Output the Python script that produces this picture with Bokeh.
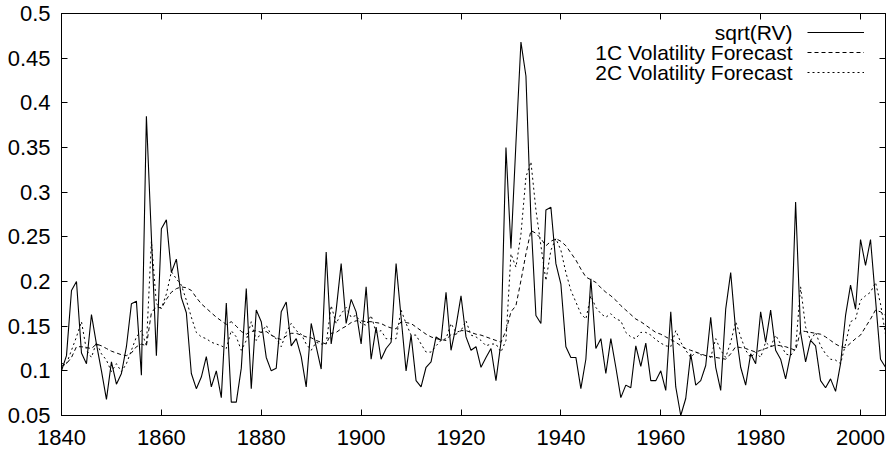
from bokeh.plotting import figure
from bokeh.models import FixedTicker, LinearAxis, Label, Legend, LegendItem, Range1d, CustomJSTickFormatter
from bokeh.core.properties import value
from bokeh.embed import file_html
from bokeh.resources import INLINE

years = list(range(1840, 2006))

sqrt_rv = [
    0.100, 0.117, 0.190, 0.200, 0.120, 0.108, 0.163, 0.130, 0.100, 0.068,  # 1840-1849
    0.110, 0.085, 0.097, 0.127, 0.175, 0.178, 0.095, 0.385, 0.250, 0.117,  # 1850-1859
    0.259, 0.269, 0.210, 0.225, 0.182, 0.165, 0.097, 0.080, 0.093, 0.116,  # 1860-1869
    0.082, 0.100, 0.070, 0.176, 0.065, 0.065, 0.103, 0.192, 0.080, 0.168,  # 1870-1879
    0.155, 0.115, 0.100, 0.103, 0.166, 0.177, 0.128, 0.136, 0.116, 0.082,  # 1880-1889
    0.153, 0.127, 0.102, 0.233, 0.130, 0.168, 0.220, 0.153, 0.180, 0.166,  # 1890-1899
    0.130, 0.194, 0.113, 0.149, 0.113, 0.125, 0.132, 0.220, 0.160, 0.100,  # 1900-1909
    0.140, 0.089, 0.082, 0.104, 0.110, 0.138, 0.134, 0.188, 0.123, 0.150,  # 1910-1919
    0.184, 0.138, 0.123, 0.127, 0.104, 0.115, 0.125, 0.089, 0.132, 0.350,  # 1920-1929
    0.237, 0.355, 0.468, 0.430, 0.270, 0.162, 0.153, 0.280, 0.283, 0.220,  # 1930-1939
    0.197, 0.127, 0.115, 0.115, 0.080, 0.113, 0.203, 0.125, 0.136, 0.097,  # 1940-1949
    0.136, 0.104, 0.070, 0.084, 0.081, 0.128, 0.105, 0.131, 0.089, 0.089,  # 1950-1959
    0.100, 0.078, 0.166, 0.082, 0.050, 0.069, 0.119, 0.084, 0.089, 0.106,  # 1960-1969
    0.160, 0.104, 0.078, 0.169, 0.210, 0.145, 0.104, 0.084, 0.119, 0.108,  # 1970-1979
    0.166, 0.132, 0.168, 0.123, 0.113, 0.091, 0.119, 0.289, 0.143, 0.110,  # 1980-1989
    0.134, 0.128, 0.089, 0.081, 0.091, 0.077, 0.108, 0.162, 0.196, 0.169,  # 1990-1999
    0.247, 0.218, 0.247, 0.180, 0.113, 0.104,                              # 2000-2005
]

forecast_1c = [
    0.105, 0.108, 0.115, 0.127, 0.127, 0.126, 0.125, 0.130, 0.128, 0.125,
    0.122, 0.120, 0.118, 0.117, 0.120, 0.127, 0.130, 0.128, 0.165, 0.172,
    0.170, 0.180, 0.188, 0.192, 0.194, 0.193, 0.190, 0.182, 0.175, 0.170,
    0.165, 0.160, 0.156, 0.152, 0.155, 0.150, 0.144, 0.141, 0.144, 0.145,
    0.143, 0.144, 0.140, 0.137, 0.135, 0.139, 0.142, 0.142, 0.140, 0.138,
    0.137, 0.134, 0.132, 0.130, 0.142, 0.143, 0.147, 0.150, 0.154, 0.156,
    0.156, 0.155, 0.155, 0.154, 0.153, 0.150, 0.148, 0.147, 0.155, 0.154,
    0.153, 0.149, 0.145, 0.141, 0.138, 0.136, 0.135, 0.134, 0.141, 0.141,
    0.145, 0.145, 0.143, 0.141, 0.140, 0.138, 0.136, 0.134, 0.132, 0.145,
    0.166, 0.173, 0.201, 0.231, 0.257, 0.254, 0.248, 0.240, 0.245, 0.248,
    0.245, 0.240, 0.232, 0.224, 0.214, 0.205, 0.202, 0.199, 0.193, 0.188,
    0.184, 0.179, 0.173, 0.168, 0.163, 0.158, 0.155, 0.151, 0.147, 0.143,
    0.141, 0.138, 0.135, 0.132, 0.128, 0.125, 0.123, 0.121, 0.119, 0.117,
    0.116, 0.115, 0.114, 0.113, 0.119, 0.127, 0.126, 0.125, 0.123, 0.121,
    0.123, 0.125, 0.127, 0.129, 0.128, 0.127, 0.125, 0.123, 0.145, 0.144,
    0.143, 0.142, 0.141, 0.138, 0.134, 0.130, 0.127, 0.126, 0.131, 0.136,
    0.140, 0.149, 0.158, 0.168, 0.166, 0.162,
]

forecast_2c = [
    0.108, 0.108, 0.123, 0.138, 0.155, 0.123, 0.115, 0.132, 0.119, 0.112,
    0.099, 0.108, 0.099, 0.108, 0.123, 0.138, 0.145, 0.128, 0.245, 0.175,
    0.170, 0.186, 0.211, 0.203, 0.196, 0.179, 0.160, 0.143, 0.138, 0.136,
    0.132, 0.130, 0.128, 0.125, 0.145, 0.138, 0.123, 0.134, 0.155, 0.134,
    0.143, 0.151, 0.140, 0.136, 0.127, 0.143, 0.153, 0.145, 0.141, 0.130,
    0.123, 0.132, 0.130, 0.130, 0.173, 0.153, 0.164, 0.171, 0.160, 0.162,
    0.153, 0.151, 0.162, 0.143, 0.145, 0.136, 0.136, 0.136, 0.168, 0.153,
    0.140, 0.140, 0.130, 0.121, 0.121, 0.128, 0.134, 0.136, 0.153, 0.143,
    0.145, 0.156, 0.140, 0.138, 0.134, 0.128, 0.130, 0.130, 0.121, 0.134,
    0.231, 0.216, 0.253, 0.317, 0.334, 0.280, 0.240, 0.201, 0.235, 0.248,
    0.235, 0.210, 0.190, 0.177, 0.164, 0.158, 0.184, 0.171, 0.164, 0.160,
    0.164, 0.158, 0.156, 0.143, 0.138, 0.136, 0.143, 0.143, 0.140, 0.135,
    0.131, 0.128, 0.127, 0.145, 0.132, 0.123, 0.115, 0.121, 0.118, 0.117,
    0.115, 0.136, 0.123, 0.115, 0.132, 0.155, 0.138, 0.123, 0.115, 0.121,
    0.115, 0.132, 0.127, 0.140, 0.130, 0.119, 0.117, 0.125, 0.194, 0.149,
    0.134, 0.143, 0.128, 0.119, 0.113, 0.112, 0.108, 0.130, 0.155, 0.158,
    0.179, 0.184, 0.188, 0.199, 0.175, 0.141,
]

x_ticks = [1840, 1860, 1880, 1900, 1920, 1940, 1960, 1980, 2000]
y_ticks = [0.05, 0.1, 0.15, 0.2, 0.25, 0.3, 0.35, 0.4, 0.45, 0.5]
y_tick_labels = ["0.05", "0.1", "0.15", "0.2", "0.25", "0.3", "0.35", "0.4", "0.45", "0.5"]
legend_labels = ["sqrt(RV)", "1C Volatility Forecast", "2C Volatility Forecast"]

FONT = "Liberation Sans"
TICK_FS = "22px"
KEY_FS = "21px"

p = figure(width=891, height=450, output_backend="svg", toolbar_location=None,
           x_range=Range1d(1840, 2005), y_range=Range1d(0.05, 0.5),
           min_border_left=61, min_border_right=6, min_border_top=13, min_border_bottom=35,
           background_fill_color="white", border_fill_color="white")
p.outline_line_color = "black"
p.outline_line_width = 1
p.xgrid.grid_line_color = None
p.ygrid.grid_line_color = None

r1 = p.line(years, sqrt_rv, line_color="black", line_width=1.1)
r2 = p.line(years, forecast_1c, line_color="black", line_width=1, line_dash="4 3")
r3 = p.line(years, forecast_2c, line_color="black", line_width=1, line_dash="2 3")

def style_axis(ax):
    ax.axis_line_color = "black"
    ax.major_tick_line_color = "black"
    ax.major_tick_in = 6
    ax.major_tick_out = 0
    ax.minor_tick_line_color = None
    ax.major_label_text_font = FONT
    ax.major_label_text_font_size = TICK_FS
    ax.major_label_text_color = "black"

p.xaxis.ticker = FixedTicker(ticks=x_ticks)
p.yaxis.ticker = FixedTicker(ticks=y_ticks)
p.yaxis.major_label_overrides = dict(zip(y_ticks, y_tick_labels))
style_axis(p.xaxis[0])
style_axis(p.yaxis[0])
p.xaxis.major_label_standoff = 14
p.yaxis.major_label_standoff = 11

# mirrored tick marks on the top and right sides (no labels)
blank = CustomJSTickFormatter(code="return ''")
top_axis = LinearAxis(ticker=FixedTicker(ticks=x_ticks), formatter=blank, major_label_standoff=0)
style_axis(top_axis)
p.add_layout(top_axis, "above")
right_axis = LinearAxis(ticker=FixedTicker(ticks=y_ticks), formatter=blank, major_label_standoff=0)
style_axis(right_axis)
p.add_layout(right_axis, "right")

# gnuplot-style key: text right-aligned, line sample to its right
for i, lab in enumerate(legend_labels):
    p.add_layout(Label(x=731, y=383 - 20 * i, x_units="screen", y_units="screen",
                       text=lab, text_align="right", text_baseline="middle",
                       text_font=FONT, text_font_size=KEY_FS, text_color="black"))

legend = Legend(items=[LegendItem(label=value(" "), renderers=[r]) for r in (r1, r2, r3)],
                location=(746, 333), glyph_width=57, glyph_height=20, label_height=20,
                label_width=0, label_standoff=0, spacing=0, padding=0, margin=0,
                border_line_color=None, background_fill_alpha=0,
                label_text_font_size="10px")
p.add_layout(legend)

open("out.html", "w").write(file_html(p, INLINE))
